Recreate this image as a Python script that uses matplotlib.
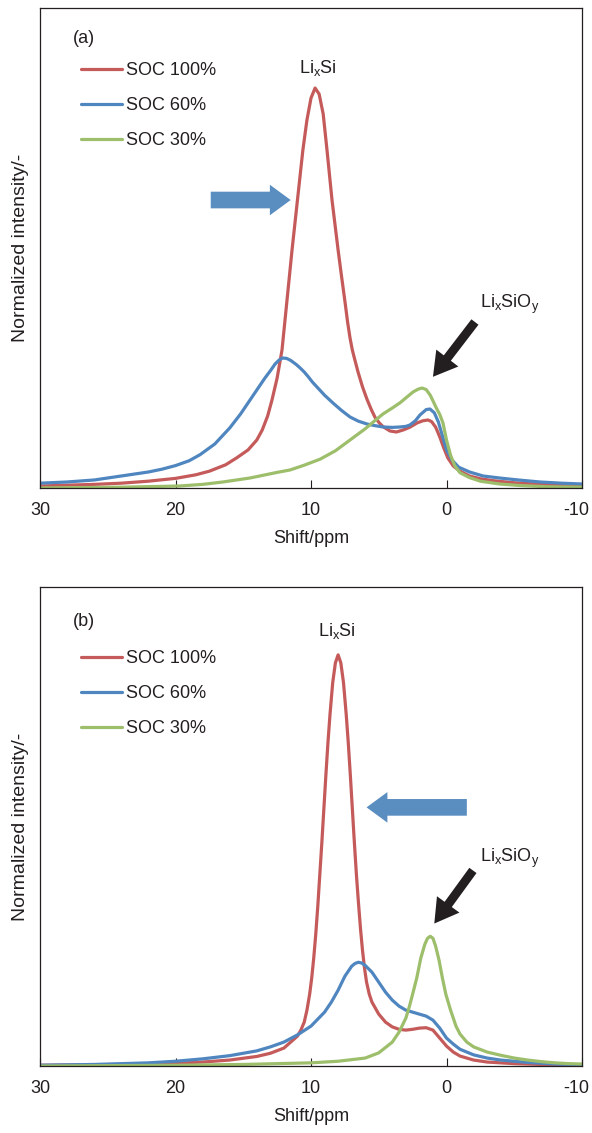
import numpy as np
import matplotlib
matplotlib.use("Agg")
import matplotlib.pyplot as plt
from matplotlib.transforms import ScaledTranslation

plt.rcParams['font.family'] = ['Liberation Sans', 'DejaVu Sans']
plt.rcParams['mathtext.fontset'] = 'custom'
plt.rcParams['mathtext.rm'] = 'Liberation Sans'
plt.rcParams['mathtext.it'] = 'Liberation Sans'

RED = '#c55a5a'
BLUE = '#4f86c0'
GREEN = '#9dbe6b'
ARROW_BLUE = '#5a8dc0'
TXT = '#231f20'

LABELS = ['SOC 100%', 'SOC 60%', 'SOC 30%']
XTICKS = [30, 20, 10, 0, -10]

# --- panel (a) data: shift (ppm) and normalized intensity ---
a_red_x = [30, 28, 26, 24, 22, 20, 18.5, 17.5, 16.3, 15.5, 14.65, 14, 13.6, 13.2, 12.88, 12.5,
           12.14, 11.77, 11.4, 11.0, 10.6, 10.3, 10.0, 9.7, 9.4, 9.1, 8.82, 8.45, 8.0, 7.75,
           7.49, 7.3, 7.12, 6.95, 6.8, 6.53, 6.2, 5.87, 5.55, 5.28, 4.97, 4.69, 4.17, 3.7, 3.2,
           2.7, 2.18, 1.75, 1.37, 1.1, 0.8, 0.5, 0.2, -0.1, -0.5, -1, -1.7, -2.5, -3.5, -5,
           -6.5, -8, -10]
a_red_y = [0.005, 0.007, 0.009, 0.012, 0.017, 0.024, 0.033, 0.042, 0.058, 0.075, 0.095, 0.12,
           0.145, 0.18, 0.22, 0.275, 0.345, 0.47, 0.595, 0.72, 0.845, 0.92, 0.975, 1.0, 0.985,
           0.935, 0.845, 0.72, 0.595, 0.53, 0.465, 0.415, 0.375, 0.345, 0.325, 0.29, 0.253,
           0.222, 0.196, 0.177, 0.163, 0.1535, 0.1425, 0.14, 0.145, 0.152, 0.1625, 0.168,
           0.17, 0.166, 0.152, 0.128, 0.1, 0.075, 0.055, 0.042, 0.03, 0.023, 0.018, 0.013,
           0.01, 0.008, 0.006]

a_blue_x = [30, 28, 26, 24, 22, 21, 20, 19, 18.2, 17.1, 16, 15.2, 14.5, 13.9, 13.4, 13, 12.65,
            12.35, 12.1, 11.8, 11.5, 11.1, 10.8, 10.5, 10.2, 9.9, 9.56, 9.0, 8.38, 7.75, 7.12,
            6.5, 5.87, 5.3, 4.69, 4.0, 3.43, 3.0, 2.7, 2.3, 1.96, 1.5, 1.22, 0.9, 0.6, 0.3, 0,
            -0.4, -0.9, -1.7, -2.7, -3.9, -5.3, -6.9, -8.5, -10]
a_blue_y = [0.012, 0.015, 0.02, 0.03, 0.04, 0.047, 0.056, 0.068, 0.083, 0.11, 0.15, 0.185,
            0.22, 0.25, 0.275, 0.293, 0.31, 0.32, 0.325, 0.324, 0.319, 0.309, 0.3, 0.29, 0.278,
            0.265, 0.2525, 0.232, 0.2125, 0.194, 0.1775, 0.167, 0.16, 0.156, 0.1525, 0.1515,
            0.1525, 0.154, 0.1575, 0.168, 0.1825, 0.196, 0.1975, 0.188, 0.165, 0.13, 0.095,
            0.07, 0.052, 0.04, 0.03, 0.025, 0.02, 0.015, 0.012, 0.01]

a_green_x = [30, 27, 24, 21, 19.7, 18, 16.5, 15.5, 14.5, 13.5, 12.5, 11.55, 10.5, 9.33, 8.2,
             7.12, 6, 5.3, 4.69, 4.0, 3.43, 2.9, 2.47, 2.1, 1.8, 1.5, 1.2, 1.0, 0.75, 0.5, 0.26,
             0, -0.3, -0.6, -1, -1.7, -2.5, -3.9, -5.5, -7.5, -10]
a_green_y = [0.0, 0.001, 0.002, 0.004, 0.005, 0.009, 0.015, 0.02, 0.025, 0.032, 0.039, 0.045,
             0.057, 0.072, 0.093, 0.12, 0.148, 0.168, 0.185, 0.2, 0.213, 0.228, 0.24, 0.247,
             0.25, 0.246, 0.232, 0.218, 0.2, 0.184, 0.1625, 0.12, 0.082, 0.056, 0.038, 0.026,
             0.017, 0.01, 0.006, 0.003, 0.002]

# --- panel (b) data ---
b_red_x = [30, 24, 20, 18, 16, 14, 13, 12, 11, 10.75, 10.5, 10.3, 10.1, 9.95, 9.8, 9.65, 9.5,
           9.35, 9.2, 9.05, 8.9, 8.75, 8.6, 8.4, 8.2, 8.0, 7.8, 7.6, 7.4, 7.25, 7.1, 6.95, 6.8,
           6.65, 6.5, 6.35, 6.2, 6.05, 5.9, 5.7, 5.5, 5, 4.5, 4, 3.5, 3, 2.5, 2, 1.5, 1, 0.5,
           0, -0.5, -1, -2, -3, -5, -7, -10]
b_red_y = [0.002, 0.004, 0.007, 0.01, 0.015, 0.024, 0.032, 0.045, 0.075, 0.09, 0.11, 0.14,
           0.18, 0.22, 0.27, 0.33, 0.4, 0.48, 0.56, 0.645, 0.73, 0.81, 0.88, 0.96, 1.01, 1.03,
           1.01, 0.96, 0.88, 0.81, 0.73, 0.645, 0.56, 0.48, 0.41, 0.345, 0.29, 0.245, 0.21,
           0.18, 0.16, 0.13, 0.11, 0.098, 0.092, 0.09, 0.092, 0.095, 0.096, 0.09, 0.07, 0.05,
           0.035, 0.025, 0.015, 0.01, 0.006, 0.004, 0.003]

b_blue_x = [30, 26, 22, 20, 18, 16, 14, 13, 12, 11, 10, 9, 8.5, 8, 7.5, 7, 6.75, 6.5, 6.25, 6,
            5.5, 5, 4.5, 4, 3.5, 3, 2.5, 2, 1.5, 1, 0.5, 0, -0.5, -1, -2, -3, -4, -6, -8, -10]
b_blue_y = [0.002, 0.004, 0.008, 0.012, 0.018, 0.026, 0.038, 0.048, 0.06, 0.078, 0.1, 0.135,
            0.16, 0.19, 0.225, 0.25, 0.257, 0.26, 0.258, 0.252, 0.235, 0.21, 0.185, 0.165,
            0.15, 0.14, 0.135, 0.13, 0.125, 0.115, 0.095, 0.07, 0.055, 0.042, 0.028, 0.02,
            0.015, 0.009, 0.005, 0.003]

b_green_x = [30, 20, 15, 10, 8, 6, 5, 4, 3.5, 3, 2.75, 2.5, 2.2, 1.9, 1.6, 1.4, 1.2, 1.0, 0.8,
             0.55, 0.3, 0.05, -0.3, -0.7, -1, -1.5, -2, -3, -4, -5, -6, -7, -8, -9, -10]
b_green_y = [0.0, 0.002, 0.004, 0.008, 0.012, 0.02, 0.033, 0.06, 0.085, 0.12, 0.148, 0.18,
             0.22, 0.27, 0.305, 0.32, 0.325, 0.32, 0.3, 0.265, 0.22, 0.18, 0.14, 0.1, 0.08,
             0.06, 0.048, 0.035, 0.027, 0.02, 0.015, 0.011, 0.008, 0.006, 0.005]

panels = [
    dict(tag='(a)', series=[(a_red_x, a_red_y), (a_blue_x, a_blue_y), (a_green_x, a_green_y)],
         rect=[0.0676, 0.5693, 0.9155, 0.4236], tag_y=0.9375, leg_y=0.902,
         blue_arrow=((17.4, 0.72), (11.5, 0.72)),
         black_arrow=((-2.1, 0.415), (1.0, 0.278)),
         lisi=(9.5, 1.05), lisio=(-4.7, 0.46)),
    dict(tag='(b)', series=[(b_red_x, b_red_y), (b_blue_x, b_blue_y), (b_green_x, b_green_y)],
         rect=[0.0676, 0.0591, 0.9155, 0.4228], tag_y=0.927, leg_y=0.883,
         blue_arrow=((-1.5, 0.648), (5.9, 0.648)),
         black_arrow=((-1.95, 0.49), (0.9, 0.357)),
         lisi=(8.1, 1.09), lisio=(-4.7, 0.52)),
]

fig = plt.figure(figsize=(5.92, 11.33), dpi=100)

for p in panels:
    ax = fig.add_axes(p['rect'])
    for (x, y), c, lab in zip(p['series'], [RED, BLUE, GREEN], LABELS):
        ax.plot(x, y, color=c, lw=2.3, label=lab, solid_capstyle='round',
                solid_joinstyle='round')
    ax.set_xlim(30, -10)
    ax.set_ylim(0, 1.2)
    ax.set_xticks(XTICKS)
    ax.set_xticklabels([str(t) for t in XTICKS])
    ax.set_yticks([])
    ax.tick_params(axis='x', direction='in', length=6, width=0.8, labelsize=13,
                   pad=10, colors=TXT)
    # last label sits at the right edge, nudge it in a little
    last = ax.get_xticklabels()[-1]
    last.set_transform(last.get_transform() + ScaledTranslation(-6 / 100, 0, fig.dpi_scale_trans))
    for s in ax.spines.values():
        s.set_linewidth(0.9)
        s.set_color(TXT)
    ax.set_xlabel('Shift/ppm', fontsize=13, color=TXT, labelpad=8)
    ax.set_ylabel('Normalized intensity/-', fontsize=14, color=TXT, labelpad=8)

    ax.text(0.061, p['tag_y'], p['tag'], transform=ax.transAxes, fontsize=13, color=TXT,
            va='center')
    ax.legend(loc='upper left', bbox_to_anchor=(0.062, p['leg_y']), frameon=False,
              fontsize=13, handlelength=2.3, handletextpad=0.2, labelspacing=1.0,
              borderaxespad=0, labelcolor=TXT)

    ax.text(*p['lisi'], r'Li$_\mathrm{x}$Si', fontsize=13, color=TXT, ha='center', va='center')
    ax.text(*p['lisio'], r'Li$_\mathrm{x}$SiO$_\mathrm{y}$', fontsize=13, color=TXT,
            ha='center', va='center')

    (x0, y0), (x1, y1) = p['blue_arrow']
    ax.annotate('', xy=(x1, y1), xytext=(x0, y0),
                arrowprops=dict(arrowstyle='simple,head_length=0.75,head_width=1.1,tail_width=0.6',
                                mutation_scale=20, color=ARROW_BLUE, lw=0,
                                shrinkA=0, shrinkB=0))
    (x0, y0), (x1, y1) = p['black_arrow']
    ax.annotate('', xy=(x1, y1), xytext=(x0, y0),
                arrowprops=dict(arrowstyle='simple,head_length=0.85,head_width=1.0,tail_width=0.32',
                                mutation_scale=20, color=TXT, lw=0,
                                shrinkA=0, shrinkB=0))

fig.savefig('out.png', dpi=100)
